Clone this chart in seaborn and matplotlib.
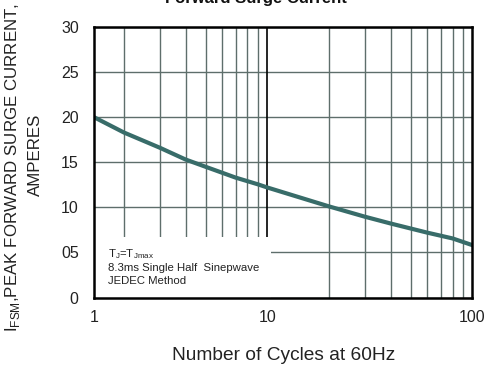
import numpy as np
import pandas as pd
import matplotlib
matplotlib.use("Agg")
import matplotlib.pyplot as plt
import seaborn as sns
from matplotlib.patches import Rectangle
from matplotlib.ticker import FixedLocator, NullFormatter

# the chart's left edge is labelled "1" but its grid sits on a log scale
# where that edge falls at ~1.43 cycles; values are read against the grid
x_left = 1.43
cycles = [x_left, 2, 3, 4, 5, 6, 7, 9, 10, 20, 30, 40, 50, 60, 80, 100]
surge_current = [20.0, 18.3, 16.6, 15.3, 14.5, 13.85, 13.3, 12.55, 12.2,
                 10.1, 8.95, 8.2, 7.65, 7.2, 6.55, 5.8]

y_ticks = [0, 5, 10, 15, 20, 25, 30]
y_tick_labels = ["0", "05", "10", "15", "20", "25", "30"]
x_ticks = [x_left, 10, 100]
x_tick_labels = ["1", "10", "100"]

df = pd.DataFrame({"Cycles": cycles, "Current": surge_current})

sns.set_theme(style="white")
plt.rcParams["font.family"] = ["Liberation Sans", "DejaVu Sans"]
plt.rcParams["mathtext.fontset"] = "custom"
plt.rcParams["mathtext.rm"] = "Liberation Sans"

fig = plt.figure(figsize=(4.89, 3.65), dpi=100)
ax = fig.add_axes([94 / 489, 67.5 / 365, 378.5 / 489, 270.5 / 365])

sns.lineplot(data=df, x="Cycles", y="Current", ax=ax, color="#386c69",
             linewidth=3.0, zorder=5)

ax.set_xscale("log")
ax.set_xlim(x_left, 100)
ax.set_ylim(0, 30)

# grid
minor = [m * d for d in (1, 10) for m in range(2, 10)]
ax.xaxis.set_minor_locator(FixedLocator(minor))
ax.xaxis.set_minor_formatter(NullFormatter())
ax.set_xticks(x_ticks)
ax.set_xticklabels(x_tick_labels)
ax.set_yticks(y_ticks)
ax.set_yticklabels(y_tick_labels)
ax.grid(which="minor", axis="x", color="#5e6e6b", linewidth=1.0)
ax.grid(which="major", axis="y", color="#5e6e6b", linewidth=1.0)
ax.axvline(10, color="black", linewidth=1.2, zorder=2)
ax.set_axisbelow(True)

ax.tick_params(axis="both", which="both", length=0, labelsize=11.5, colors="#222222")
ax.tick_params(axis="x", pad=9)
ax.tick_params(axis="y", pad=11)

for s in ax.spines.values():
    s.set_color("black")
    s.set_linewidth(1.8)
    s.set_zorder(6)

# white box for the conditions note
ax.add_patch(Rectangle((0, 0), 0.468, 0.222, transform=ax.transAxes,
                       facecolor="white", edgecolor="none", zorder=3))
note_kw = dict(transform=ax.transAxes, fontsize=8.2, color="#222222", zorder=4,
               ha="left", va="center")
ax.text(0.037, 0.161, r"T$_\mathregular{J}$=T$_\mathregular{Jmax}$", **note_kw)
ax.text(0.037, 0.109, "8.3ms Single Half  Sinepwave", **note_kw)
ax.text(0.037, 0.061, "JEDEC Method", **note_kw)

ax.set_xlabel("Number of Cycles at 60Hz", fontsize=13.8, labelpad=16, color="#222222")
ax.set_ylabel("")

fig.text(13 / 489, 1 - 168 / 365, r"I$_\mathregular{FSM}$,PEAK FORWARD SURGE CURRENT,",
         rotation=90, ha="center", va="center", fontsize=12.2, color="#222222")
fig.text(35 / 489, 1 - 155 / 365, "AMPERES",
         rotation=90, ha="center", va="center", fontsize=12.2, color="#222222")

fig.text(256 / 489, 1 - 3 / 365, "Forward Surge Current", ha="center",
         va="baseline", fontsize=12, fontweight="bold", color="#111111")

fig.savefig("out.png", dpi=100)
